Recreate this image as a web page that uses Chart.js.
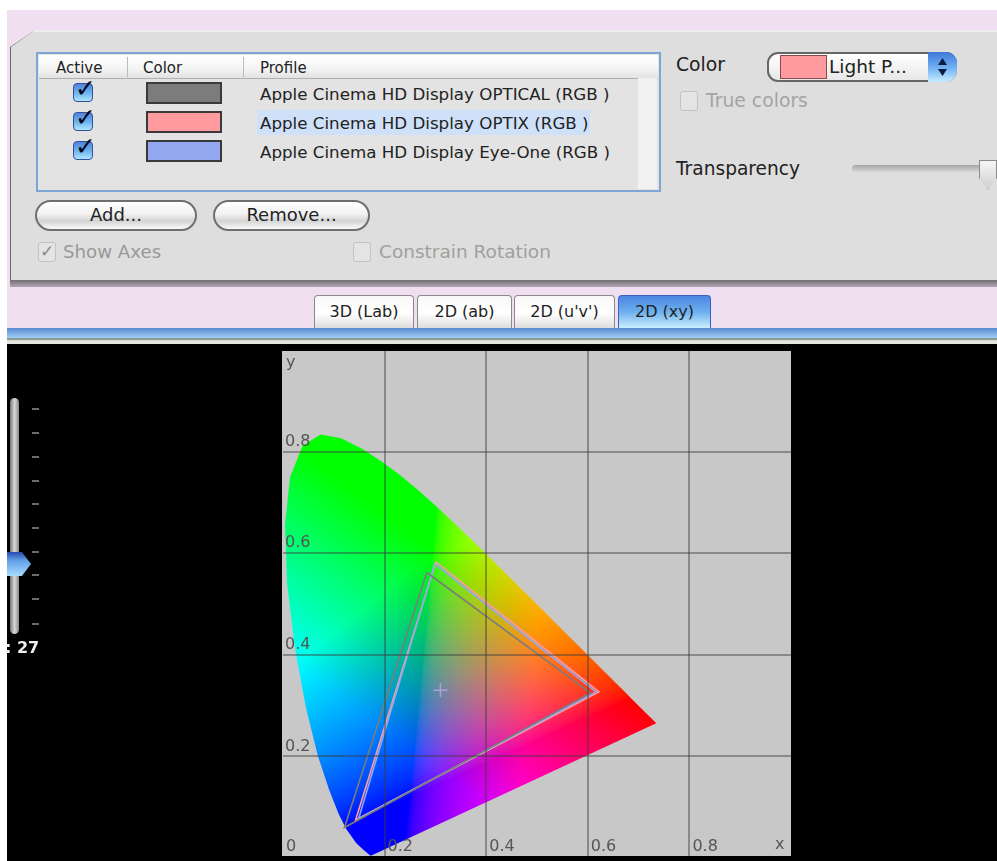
<!DOCTYPE html>
<html><head><meta charset="utf-8">
<style>
html,body{margin:0;padding:0;background:#fff;overflow:hidden}
#page{position:relative;width:997px;height:861px;overflow:hidden;filter:blur(.7px);font-family:"DejaVu Sans",sans-serif;color:#222}
#page div,#page span{position:absolute;white-space:nowrap}
.t{font-size:16.7px;line-height:20px}
.dim{color:#a4a4a4}
.btn{background:linear-gradient(#fff,#f1f1f1 45%,#d4d4d4 70%,#fafafa);border:2px solid #6e6e6e;border-radius:16px;box-sizing:border-box;text-align:center;font-size:18px;line-height:26px}
.tab{background:linear-gradient(#f8f8f8,#fff 55%,#dcdcdc);border:1.5px solid #8a8a8a;border-bottom:0;border-radius:4px 4px 0 0;box-sizing:border-box;text-align:center;font-size:16px;line-height:32px;top:295px;height:33px}
.sw{border:2px solid #3a3a3a;box-sizing:border-box;left:146px;width:76px;height:22px}
.cb{left:73px;width:20px;height:19px;border:1.5px solid #34509c;border-radius:4px;box-sizing:border-box;background:linear-gradient(#4f82d8,#6fb6f0 55%,#aee4ff)}
.ck{font-size:25px;line-height:20px;font-weight:700;color:#050518;left:75px}
.gb{width:18px;height:20px;border:1.5px solid #c2c2c2;border-radius:3px;box-sizing:border-box;background:#e4e4e4}
.tick{left:32px;width:7px;height:1.5px;background:#6a6a6a}
</style></head><body>
<div id="page">
 <div style="left:7px;top:10px;width:990px;height:333px;background:#efdff0"></div>
 <div style="left:10px;top:30px;width:987px;height:257px;background:linear-gradient(#6a6a6a 97%,#b5a6b5);clip-path:polygon(0 17px,25px 0,100% 0,100% 100%,0 100%)"></div>
 <div style="left:11px;top:30px;width:986px;height:250px;background:#dedede;border-top:2px solid #eee;box-sizing:border-box;clip-path:polygon(0 17px,24px 0,100% 0,100% 100%,0 100%)"></div>
 <div style="left:36px;top:52px;width:625px;height:140px;background:#e3e3e3;border:2.5px solid #7da6d6;box-sizing:border-box"></div>
 <div style="left:39px;top:55px;width:619px;height:23px;background:linear-gradient(#fff,#f4f4f4 60%,#e2e2e2);border-bottom:1px solid #b0b0b0"></div>
 <div style="left:127px;top:57px;width:1px;height:20px;background:#bbb"></div>
 <div style="left:243px;top:57px;width:1px;height:20px;background:#bbb"></div>
 <div style="left:638px;top:78px;width:19px;height:111px;background:#f1f1f1"></div>
 <div class="t" style="left:56px;top:58px;font-size:15px">Active</div>
 <div class="t" style="left:143px;top:58px;font-size:15px">Color</div>
 <div class="t" style="left:260px;top:58px;font-size:15px">Profile</div>
 <div style="left:257px;top:110px;width:333px;height:25px;background:#cfe1f8"></div>
 <div id="rows"></div>
 <div class="t" style="left:676px;top:55px;font-size:18.8px">Color</div>
 <div style="left:767px;top:52px;width:190px;height:30px;border-radius:11px;border:2px solid #666;box-sizing:border-box;background:linear-gradient(#fff,#e8e8e8)"></div>
 <div style="left:780px;top:55px;width:47px;height:24px;background:#ff9a9e;border:1.5px solid #8b4a4a;box-sizing:border-box"></div>
 <div class="t" style="left:829px;top:57px;font-size:18.5px">Light P...</div>
 <div style="left:928px;top:52px;width:29px;height:30px;border-radius:0 11px 11px 0;background:linear-gradient(#3f77d8,#74b4f2 55%,#c8ecff)"></div>
 <div style="left:938px;top:58px;width:9px;height:7px;background:#0b1b40;clip-path:polygon(50% 0,100% 100%,0 100%)"></div>
 <div style="left:938px;top:69px;width:9px;height:7px;background:#0b1b40;clip-path:polygon(0 0,100% 0,50% 100%)"></div>
 <div class="gb" style="left:680px;top:91px"></div>
 <div class="t dim" style="left:706px;top:91px;font-size:18.8px">True colors</div>
 <div class="t" style="left:676px;top:159px;font-size:18.6px">Transparency</div>
 <div style="left:852px;top:165px;width:132px;height:7px;border-radius:4px;background:linear-gradient(#a6a6a6,#d6d6d6)"></div>
 <div style="left:979px;top:160px;width:18px;height:30px;background:linear-gradient(#f6f6f6,#cfcfcf);border:1px solid #8a8a8a;box-sizing:border-box;clip-path:polygon(0 0,100% 0,100% 60%,50% 100%,0 60%)"></div>
 <div class="btn" style="left:35px;top:200px;width:162px;height:31px">Add...</div>
 <div class="btn" style="left:213px;top:200px;width:157px;height:31px">Remove...</div>
 <div class="gb" style="left:38px;top:242px"></div>
 <div style="left:40px;top:240px;font-size:17px;line-height:22px;color:#8a8a8a;font-weight:700">✓</div>
 <div class="t dim" style="left:63px;top:242px;font-size:18.2px;color:#999">Show Axes</div>
 <div class="gb" style="left:353px;top:242px"></div>
 <div class="t dim" style="left:379px;top:242px;font-size:18.5px;color:#a0a0a0">Constrain Rotation</div>
 <div class="tab" style="left:314px;width:100px">3D (Lab)</div>
 <div class="tab" style="left:417px;width:95px">2D (ab)</div>
 <div class="tab" style="left:514px;width:101px">2D (u'v')</div>
 <div class="tab" style="left:618px;width:93px;border-color:#3c5fc0;background:linear-gradient(#4d86e0,#6db0ef 50%,#c9effc)">2D (xy)</div>
 <div style="left:7px;top:328px;width:990px;height:10px;background:linear-gradient(#5a8ad2,#a0cdf5)"></div>
 <div style="left:7px;top:338px;width:990px;height:6px;background:linear-gradient(#8c9c92 25%,#e6e6e0 45%)"></div>
 <div style="left:7px;top:344px;width:990px;height:517px;background:#000"></div>
 <div style="left:10px;top:398px;width:9px;height:236px;border-radius:5px;background:linear-gradient(90deg,#777,#d8d8d8 50%,#888)"></div>
 <div class="tick" style="top:408px"></div><div class="tick" style="top:432px"></div><div class="tick" style="top:456px"></div><div class="tick" style="top:480px"></div><div class="tick" style="top:503px"></div><div class="tick" style="top:527px"></div><div class="tick" style="top:551px"></div><div class="tick" style="top:574px"></div><div class="tick" style="top:598px"></div><div class="tick" style="top:623px"></div>
 <div style="left:7px;top:552px;width:24px;height:24px;background:linear-gradient(#2a49b0,#5f9fe6 35%,#a9dcfb);clip-path:polygon(0 0,62% 0,100% 50%,62% 100%,0 100%)"></div>
 <div style="left:5px;top:636px;color:#eee;font-weight:700;font-size:16px;line-height:24px">: 27</div>
 <div style="left:282px;top:351px;width:509px;height:505px;background:#c8c8c8;overflow:hidden">
  <div style="left:1px;top:-1px;width:508px;height:508px"><canvas id="c" width="508" height="508"></canvas></div>
 </div>
</div>
<script src="https://cdn.jsdelivr.net/npm/chart.js@4/dist/chart.umd.min.js"></script>
<script>
// Spectral locus (xy chromaticity)
const locusX=[.1741,.1714,.1566,.1440,.1241,.1096,.0913,.0687,.0454,.0235,.0082,.0039,.0139,.0389,.0743,.1142,.1547,.1929,.2296,.2658,.3016,.3373,.3731,.4087,.4441,.4788,.5125,.5448,.5752,.6029,.6270,.6658,.6915,.7079,.7260,.7347];
const locusY=[.0050,.0051,.0177,.0297,.0578,.0868,.1327,.2007,.2950,.4127,.5384,.6548,.7502,.8120,.8338,.8262,.8059,.7816,.7543,.7243,.6923,.6589,.6245,.5896,.5547,.5202,.4866,.4544,.4242,.3965,.3725,.3340,.3083,.2920,.2740,.2653];
const profileNames=["Apple Cinema HD Display OPTICAL (RGB )","Apple Cinema HD Display OPTIX (RGB )","Apple Cinema HD Display Eye-One (RGB )"];
const profileColors=["#7c7c7c","#ff9a9e","#93a8ee"];
const opticalX=[.283,.605,.121,.283];
const opticalY=[.562,.325,.060,.562];
const optixX=[.301,.622,.143,.301];
const optixY=[.583,.327,.075,.583];
const eyeOneX=[.299,.616,.149,.299];
const eyeOneY=[.579,.327,.078,.579];
const whitePointX=[.31];
const whitePointY=[.33];
const xTickValues=[0,.2,.4,.6,.8];
const yTickValues=[.2,.4,.6,.8];
const xTickLabels=["0","0.2","0.4","0.6","0.8"];
const yTickLabels=["0.2","0.4","0.6","0.8"];
const axisNames=["x","y"];
const pts=(xs,ys)=>xs.map((x,i)=>({x,y:ys[i]}));

const rowsEl=document.getElementById('rows');
const rowTops=[82,111,140];
profileNames.forEach((n,i)=>{
  const top=rowTops[i];
  rowsEl.insertAdjacentHTML('beforeend',
   `<div class="cb" style="top:${top+1}px"></div><div class="ck" style="top:${top-3}px">✓</div>`+
   `<div class="sw" style="top:${top}px;background:${profileColors[i]}"></div>`+
   `<div class="t" style="left:260px;top:${top+2}px">${n}</div>`);
});

// colour field (a texture, not data) painted into a pattern used as the fill of the locus
let fieldPattern='#888';
const clamp01=v=>Math.min(1,Math.max(0,v));
function fieldColor(x,y){
  const r=Math.pow(clamp01((x-(.27+(y-.33)*.094))/.22),.5);
  const h=(y-(.12+(x-.25)*.45))*(1+Math.max(0,.25-x));
  const g=Math.pow(clamp01(h/.45),.7);
  const b=clamp01((.83-(y+.75*x))/.43);
  return [255*r,255*g,255*b];
}
const fieldPlugin={id:'field',afterLayout(ch){
  const xs=ch.scales.x,ys=ch.scales.y;
  xs.top=xs.bottom-22;
  const w=ch.width,h=ch.height,off=document.createElement('canvas');off.width=w;off.height=h;
  const c=off.getContext('2d'),img=c.createImageData(w,h);
  for(let j=0;j<h;j++){const y=ys.getValueForPixel(j+.5);
    for(let i=0;i<w;i++){const x=xs.getValueForPixel(i+.5),col=fieldColor(x,y),k=4*(j*w+i);
      img.data[k]=col[0];img.data[k+1]=col[1];img.data[k+2]=col[2];img.data[k+3]=255;}}
  c.putImageData(img,0,0);
  fieldPattern=ch.ctx.createPattern(off,'no-repeat');
},afterDraw(ch){
  const c=ch.ctx;c.save();c.font='16px "DejaVu Sans"';c.fillStyle='#555';c.textAlign='center';c.textBaseline='middle';
  c.fillText(axisNames[0],ch.scales.x.getPixelForValue(.978),ch.scales.y.getPixelForValue(.026));
  c.fillText(axisNames[1],ch.scales.x.getPixelForValue(.015),ch.scales.y.getPixelForValue(.974));
  c.restore();
}};
const line=(label,xs,ys,color,w)=>({label,data:pts(xs,ys),showLine:true,borderColor:color,borderWidth:w,pointRadius:0,tension:0,fill:false,order:1});
const axis=(vals,labels)=>({type:'linear',min:0,max:1,
  afterBuildTicks:s=>{s.ticks=vals.map(v=>({value:v}));},
  afterFit:s=>{if(s.isHorizontal())s.height=0;else s.width=0;s.paddingLeft=s.paddingRight=s.paddingTop=s.paddingBottom=0;},
  border:{display:false},
  grid:{z:1,drawTicks:false,tickLength:0,lineWidth:2,color:c=>c.tick&&c.tick.value===0?'rgba(0,0,0,0)':'rgba(60,60,60,.45)'},
  ticks:{z:1,autoSkip:false,maxRotation:0,color:'#555',font:{family:'"DejaVu Sans"',size:16},
    callback:v=>{const i=vals.findIndex(a=>Math.abs(a-v)<1e-6);return i<0?'':labels[i];}}});
const xAxis=axis(xTickValues,xTickLabels);
xAxis.ticks.align='start';xAxis.ticks.padding=1;xAxis.ticks.labelOffset=3;
const yAxis=axis(yTickValues,yTickLabels);
yAxis.ticks.mirror=true;yAxis.ticks.padding=2;yAxis.ticks.labelOffset=-10;
new Chart(document.getElementById('c'),{type:'scatter',
  data:{datasets:[
    {label:'locus',data:pts(locusX,locusY),showLine:true,borderWidth:0,borderColor:'rgba(0,0,0,0)',pointRadius:0,tension:0,fill:'shape',backgroundColor:()=>fieldPattern,order:5},
    line(profileNames[0],opticalX,opticalY,profileColors[0],1.6),
    line(profileNames[2],eyeOneX,eyeOneY,profileColors[2],1.6),
    line(profileNames[1],optixX,optixY,profileColors[1],1.6),
    {label:'white point',data:pts(whitePointX,whitePointY),pointStyle:'cross',pointRadius:7,borderWidth:1.5,borderColor:'#a9a3dd',order:0}
  ]},
  options:{responsive:false,animation:false,devicePixelRatio:1,layout:{padding:0,autoPadding:false},events:[],
    plugins:{legend:{display:false},tooltip:{enabled:false}},
    scales:{x:xAxis,y:yAxis}},
  plugins:[fieldPlugin]});
</script>
</body></html>
